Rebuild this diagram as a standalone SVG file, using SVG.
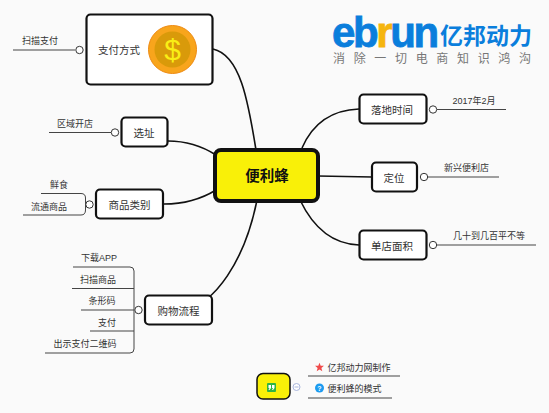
<svg xmlns="http://www.w3.org/2000/svg" width="549" height="413" viewBox="0 0 549 413">
<style>
text{font-family:"Liberation Sans","Noto Sans CJK SC",sans-serif;fill:#333;text-anchor:middle}
.t{font-size:10.500px}
.s{font-size:9px}
.box{fill:#fff;stroke:#111;stroke-width:2.2}
.c{fill:none;stroke:#111;stroke-width:1.6}
.l{fill:none;stroke:#444;stroke-width:1}
.o{fill:#fff;stroke:#333;stroke-width:1}
</style>
<rect width="549" height="413" fill="#fafafa"/>
<g id="connectors">
<path class="c" d="M213 49C240 55 248 100 256 150"/>
<path class="c" d="M168 141C190 141 205 148 216 155"/>
<path class="c" d="M164 204C185 204 203 198 216 190"/>
<path class="c" d="M183 310C215 305 245 260 257 200"/>
<path class="c" d="M359 109C330 110 312 125 302 148"/>
<path class="c" d="M318 176L372 177"/>
<path class="c" d="M300 200C312 225 330 244 359 245"/>
</g>
<g id="root"><rect x="215" y="150" width="103" height="51" rx="6" fill="#f9f008" stroke="#111" stroke-width="4"/><text x="267" y="181" style="font-size:14.500px;font-weight:bold;fill:#111">便利蜂</text></g>
<g id="n-pay">
<rect class="box" x="86.500" y="14.500" width="126" height="70" rx="4"/>
<text class="t" x="119" y="54">支付方式</text>
<circle cx="172.500" cy="49.500" r="24" fill="#f8a51c" stroke="#ee8a12" stroke-width="1"/>
<circle cx="172.500" cy="49.500" r="18" fill="#d99a0a"/>
<text x="172.500" y="60" style="font-size:30px;fill:#f9ee16">$</text>
<path class="l" d="M13 50H75"/><circle class="o" cx="79.500" cy="50" r="3.700"/>
<text class="s" x="40" y="44">扫描支付</text>
</g>
<g id="n-site">
<rect class="box" x="121.500" y="117.500" width="46" height="29" rx="4"/>
<text class="t" x="144" y="137">选址</text>
<path class="l" d="M49 132.500H111"/><circle class="o" cx="115" cy="132.500" r="3.700"/>
<text class="s" x="75" y="127">区域开店</text>
</g>
<g id="n-goods">
<rect class="box" x="96" y="189.500" width="67" height="29" rx="4"/>
<text class="t" x="129.500" y="209">商品类别</text>
<path class="l" d="M41 193.500H81Q85.500 193.500 85.500 198V210Q85.500 215 81 215H23"/><circle class="o" cx="89.500" cy="204.500" r="3.700"/>
<text class="s" x="59" y="188">鲜食</text>
<text class="s" x="49" y="210">流通商品</text>
</g>
<g id="n-flow">
<rect class="box" x="145" y="295.500" width="67" height="29" rx="4"/>
<text class="t" x="178.500" y="315">购物流程</text>
<path class="l" d="M73 267H130Q134 267 134 271V349Q134 353 130 353H45M72 288.500H134M81 310H134M90 331H134"/><circle class="o" cx="138.500" cy="310" r="3.700"/>
<text class="s" x="99" y="261">下载APP</text>
<text class="s" x="98" y="283">扫描商品</text>
<text class="s" x="102" y="304">条形码</text>
<text class="s" x="107" y="326">支付</text>
<text class="s" x="85" y="347">出示支付二维码</text>
</g>
<g id="n-date">
<rect class="box" x="359.500" y="94.500" width="67" height="29" rx="4"/>
<text class="t" x="392" y="114">落地时间</text>
<circle class="o" cx="433" cy="109.500" r="3.700"/><path class="l" d="M437 109.500H506"/>
<text class="s" x="474" y="104">2017年2月</text>
</g>
<g id="n-pos">
<rect class="box" x="372" y="162.500" width="45" height="29" rx="4"/>
<text class="t" x="394" y="182">定位</text>
<circle class="o" cx="424" cy="177" r="3.700"/><path class="l" d="M428 177H499"/>
<text class="s" x="466.500" y="171">新兴便利店</text>
</g>
<g id="n-area">
<rect class="box" x="359.500" y="230.500" width="67" height="29" rx="4"/>
<text class="t" x="392" y="250">单店面积</text>
<circle class="o" cx="433" cy="245" r="3.700"/><path class="l" d="M437 245H536"/>
<text class="s" x="489" y="239">几十到几百平不等</text>
</g>
<g id="logo">
<text x="332" y="47" style="font-size:42px;font-weight:bold;fill:#0a7edc;stroke:#0a7edc;stroke-width:.8;letter-spacing:-2.400px;text-anchor:start">eb<tspan fill="#f5b50f" stroke="#f5b50f">r</tspan>un</text>
<text x="486" y="44" style="font-size:23px;font-weight:bold;fill:#0a7edc">亿邦动力</text>
<text x="333" y="63" style="font-size:12px;fill:#777;letter-spacing:8.670px;text-anchor:start">消除一切电商知识鸿沟</text>
</g>
<g id="legend">
<rect x="257" y="373.500" width="33" height="25.500" rx="6" fill="#f9f008" stroke="#111" stroke-width="1.500"/>
<rect x="267" y="383" width="9" height="9" rx="1" fill="#2fb344"/>
<path d="M268.500 385H271V388L269.500 390H268.500L269.500 388H268.500ZM272 385H274.500V388L273 390H272L273 388H272Z" fill="#fff"/>
<circle cx="296.500" cy="387" r="3.500" fill="#fff" stroke="#a9b6dd"/>
<path d="M294.500 387H298.500" stroke="#a9b6dd"/>
<path class="l" d="M308 376H400M308 398H392"/>
<path d="M319.500 362.800L320.700 365.800H324L321.400 368 322.300 371.300 319.500 369.400 316.700 371.300 317.600 368 315 365.800H318.300Z" fill="#f04a4a"/>
<text class="s" x="359" y="370.500">亿邦动力网制作</text>
<circle cx="319.500" cy="388" r="4.500" fill="#1c9bf0"/>
<text x="319.500" y="391" style="font-size:7px;font-weight:bold;fill:#fff">?</text>
<text class="s" x="354.500" y="392">便利蜂的模式</text>
</g>
</svg>
